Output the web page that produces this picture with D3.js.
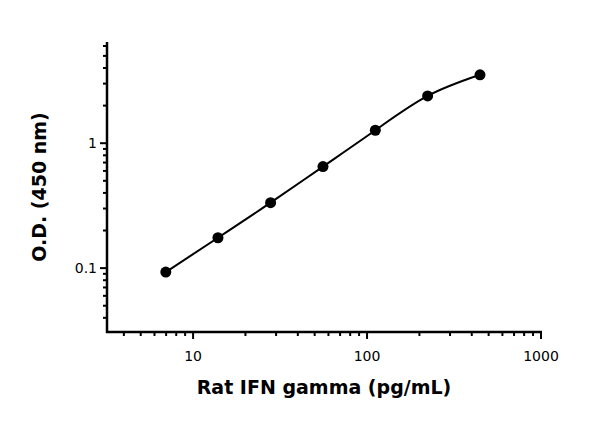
<!DOCTYPE html>
<html><head><meta charset="utf-8">
<script src="https://cdn.jsdelivr.net/npm/d3@7"></script>
<style>body{margin:0;background:#fff}svg{display:block}text{font-family:"DejaVu Sans",Arial,sans-serif}</style>
</head><body><svg id="c" width="600" height="421"></svg>
<script>
const conc = [6.97, 13.9, 27.9, 55.8, 111.6, 223, 446];
const od = [0.093, 0.175, 0.334, 0.65, 1.27, 2.39, 3.53];
const xTickLabels = [10, 100, 1000];
const yTickLabels = [0.1, 1];
const xTitle = "Rat IFN gamma (pg/mL)";
const yTitle = "O.D. (450 nm)";

const svg = d3.select("#c");
const x = d3.scaleLog().domain([3.2, 1000]).range([107, 541]);
const y = d3.scaleLog().domain([0.0308, 6.46]).range([332, 42]);

const xMinor = [];
for (let d = 1; d <= 100; d *= 10) for (let k = 1; k <= 9; k++) { const v = k * d; if (v >= 4 && v < 1000 && k !== 1) xMinor.push(v); }
const yMinor = [];
for (const d of [0.01, 0.1, 1]) for (let k = 2; k <= 9; k++) { const v = k * d; if (v >= 0.04 && v <= 6) yMinor.push(v); }

const ax = svg.append("g").attr("transform", "translate(0,332)");
ax.append("line").attr("x1", 106).attr("x2", 542).attr("stroke", "#000").attr("stroke-width", 2.5);
ax.selectAll(".mn").data(xMinor).join("line").attr("x1", d => x(d)).attr("x2", d => x(d)).attr("y1", 0).attr("y2", 4).attr("stroke", "#000").attr("stroke-width", 2);
ax.selectAll(".mj").data(xTickLabels).join("line").attr("x1", d => x(d)).attr("x2", d => x(d)).attr("y1", 0).attr("y2", 7).attr("stroke", "#000").attr("stroke-width", 2);
ax.selectAll("text").data(xTickLabels).join("text").attr("x", d => x(d)).attr("y", 29).attr("text-anchor", "middle").attr("font-size", 14).text(d => d);

const ay = svg.append("g").attr("transform", "translate(107,0)");
ay.append("line").attr("y1", 42).attr("y2", 333).attr("stroke", "#000").attr("stroke-width", 2.5);
ay.selectAll(".mn").data(yMinor).join("line").attr("y1", d => y(d)).attr("y2", d => y(d)).attr("x1", 0).attr("x2", -4).attr("stroke", "#000").attr("stroke-width", 2);
ay.selectAll(".mj").data(yTickLabels).join("line").attr("y1", d => y(d)).attr("y2", d => y(d)).attr("x1", 0).attr("x2", -7).attr("stroke", "#000").attr("stroke-width", 2);
ay.selectAll("text").data(yTickLabels).join("text").attr("x", -10).attr("y", d => y(d)).attr("dy", "0.35em").attr("text-anchor", "end").attr("font-size", 14).text(d => d);

const line = d3.line().x((d, i) => x(conc[i])).y(d => y(d)).curve(d3.curveNatural);
svg.append("path").datum(od).attr("d", line).attr("fill", "none").attr("stroke", "#000").attr("stroke-width", 2);
svg.selectAll(".pt").data(od).join("circle").attr("cx", (d, i) => x(conc[i])).attr("cy", d => y(d)).attr("r", 5.5).attr("fill", "#000");

svg.append("text").attr("x", 324).attr("y", 394).attr("text-anchor", "middle").attr("font-size", 19).attr("font-weight", "bold").text(xTitle);
svg.append("text").attr("transform", "translate(46,187) rotate(-90)").attr("text-anchor", "middle").attr("font-size", 19).attr("font-weight", "bold").text(yTitle);
</script></body></html>
